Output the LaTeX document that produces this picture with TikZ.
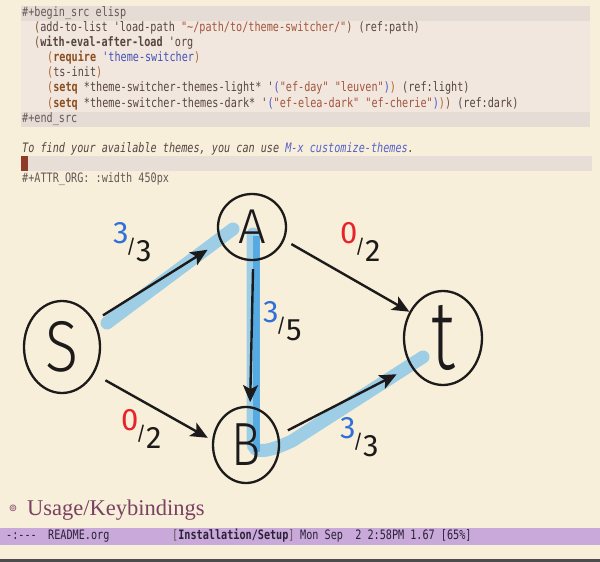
\documentclass[tikz,border=0pt]{standalone}
\usepackage{fontspec}
\usepackage{graphicx}
\usetikzlibrary{shapes.geometric,arrows.meta}
\newfontfamily\codefont{DejaVu Sans Mono}[FakeStretch=0.782,Ligatures=TeXOff]
\newfontfamily\handfont{Fira Sans Light}
\newfontfamily\digitfont{Fira Sans}
\newfontfamily\headfont{Liberation Serif}
\newfontfamily\symfont{DejaVu Sans}

\definecolor{pagebg}{HTML}{F7EFD9}
\definecolor{codebg}{HTML}{F2E7DE}
\definecolor{delimbg}{HTML}{E5DCD5}
\definecolor{hlbg}{HTML}{E7DED8}
\definecolor{fgmain}{HTML}{574444}
\definecolor{fgdim}{HTML}{665858}
\definecolor{parenone}{HTML}{7D5432}
\definecolor{parentwo}{HTML}{B0672E}
\definecolor{parenthree}{HTML}{4B57C2}
\definecolor{kwcol}{HTML}{8A4E20}
\definecolor{strcol}{HTML}{A2553D}
\definecolor{constcol}{HTML}{4552B5}
\definecolor{linkcol}{HTML}{5562CC}
\definecolor{cursorcol}{HTML}{8E3B2A}
\definecolor{headcol}{HTML}{7B4062}
\definecolor{modebg}{HTML}{C8A9DA}
\definecolor{modefg}{HTML}{2B2236}
\definecolor{inkblack}{HTML}{1C1A1A}
\definecolor{flowblue}{HTML}{2F6FD8}
\definecolor{zerored}{HTML}{E8222B}
\definecolor{brushblue}{HTML}{7FC3EA}
\definecolor{brushdeep}{HTML}{3C9FE3}

\def\flowlabel(#1,#2,#3,#4,#5,#6){
  \node[flowtext] (#1) at (#2,#3) {\textcolor{#4}{#5}\kern-0.08em\raisebox{-0.33em}{\scalebox{0.62}{/}}\raisebox{-0.6em}{#6}};
}

\begin{document}
\begin{tikzpicture}[x=1pt,y=-1pt,
  codetext/.style={anchor=west, inner sep=0pt, text height=9.5pt, text depth=3pt, text=fgmain, font=\codefont\fontsize{13}{15}\selectfont},
  vertex/.style={draw=inkblack, line width=2.3pt, ellipse, inner sep=0pt, text=inkblack},
  flowtext/.style={anchor=base west, inner sep=0pt, text=inkblack, font=\digitfont\fontsize{31}{31}\selectfont},
  flow/.style={draw=inkblack, line width=2.4pt, -{Stealth[length=17pt,width=15pt,inset=4pt]}},
  brush/.style={draw=brushblue, line width=13pt, opacity=0.75}]
\useasboundingbox (0,0) rectangle (600,562);
\fill[pagebg] (0,0) rectangle (600,562);
\fill[codebg] (21,20.5) rectangle (590,111.5);
\fill[delimbg] (21,5.5) rectangle (590,20.5);
\fill[delimbg] (21,111.5) rectangle (590,126.5);
\fill[hlbg] (21,156) rectangle (592,171);
\fill[cursorcol] (21,156) rectangle (27.5,171);

\node[codetext, text=fgdim] (srcbegin) at (22,13) {\#+begin\_src elisp};
\node[codetext] (srcpath) at (34,28) {\textcolor{parenone}{(}add-to-list 'load-path \textcolor{strcol}{"\textasciitilde/path/to/theme-switcher/"}\textcolor{parenone}{)} (ref:path)};
\node[codetext] (srcorg) at (34,43) {\textcolor{parenone}{(}\textbf{with-eval-after-load} 'org};
\node[codetext] (srcreq) at (47,58) {\textcolor{parentwo}{(}\textcolor{kwcol}{\bfseries require} \textcolor{constcol}{'theme-switcher}\textcolor{parentwo}{)}};
\node[codetext] (srcinit) at (47,73) {\textcolor{parentwo}{(}ts-init\textcolor{parentwo}{)}};
\node[codetext] (srclight) at (47,88.5) {\textcolor{parentwo}{(}\textcolor{kwcol}{\bfseries setq} *theme-switcher-themes-light* '\textcolor{parenthree}{(}\textcolor{strcol}{"ef-day" "leuven"}\textcolor{parenthree}{)}\textcolor{parentwo}{)} (ref:light)};
\node[codetext] (srcdark) at (47,104) {\textcolor{parentwo}{(}\textcolor{kwcol}{\bfseries setq} *theme-switcher-themes-dark* '\textcolor{parenthree}{(}\textcolor{strcol}{"ef-elea-dark" "ef-cherie"}\textcolor{parenthree}{)}\textcolor{parentwo}{)}\textcolor{parenone}{)} (ref:dark)};
\node[codetext, text=fgdim] (srcend) at (22,119) {\#+end\_src};
\node[codetext, font=\codefont\itshape\fontsize{13}{15}\selectfont] (hint) at (22,149) {To find your available themes, you can use \textcolor{linkcol}{M-x customize-themes}.};
\node[codetext, text=fgdim] (attr) at (22,179) {\#+ATTR\_ORG: :width 450px};

\draw[brush, line cap=round] (107,323) -- (233,229);
\draw[brush, line cap=round] (253,234) -- (253,442) .. controls (253,455) and (268,452) .. (292,441) -- (423,357);
\draw[brush, draw=brushdeep, line width=7pt] (256,236) -- (256,452);

\node[vertex, minimum width=76pt, minimum height=92pt, font=\handfont\fontsize{72}{72}\selectfont] (S) at (62,347) {\scalebox{0.85}[1]{S}};
\node[vertex, minimum width=68pt, minimum height=66pt, font=\handfont\fontsize{49}{49}\selectfont] (A) at (252,227) {A};
\node[vertex, minimum width=66pt, minimum height=76pt, font=\handfont\fontsize{61}{61}\selectfont] (B) at (246,445) {\scalebox{0.8}[1]{B}};
\node[vertex, minimum width=78pt, minimum height=94pt, font=\handfont\fontsize{70}{70}\selectfont] (t) at (443,338) {\scalebox{1}[1.4]{t}};

\draw[flow, shorten <=10pt, shorten >=15pt] (S.39) -- (A.205);
\draw[flow, shorten <=13pt, shorten >=5pt] (S.-40) -- (B.172);
\draw[flow, shorten <=8pt, shorten >=4pt] (A.-88) -- (B.84);
\draw[flow, shorten <=8pt] (A.-22) -- (t.142);
\draw[flow, shorten <=10pt, shorten >=16pt] (B.17) -- (t.222);

\flowlabel(capSA,113,243,flowblue,3,3)
\flowlabel(capAt,340,243,zerored,0,2)
\flowlabel(capAB,263,322,flowblue,3,5)
\flowlabel(capSB,121,430,zerored,0,2)
\flowlabel(capBt,340,438,flowblue,3,3)

\node[inner sep=0pt, text=headcol, font=\symfont\fontsize{10}{10}\selectfont] (bullet) at (13,508) {⊚};
\node[anchor=base west, inner sep=0pt, text=headcol, font=\headfont\fontsize{22.5}{24}\selectfont] (heading) at (27,515) {Usage/Keybindings};

\fill[modebg] (0,527.5) rectangle (600,544.5);
\node[codetext, text=modefg] (modestate) at (6,536) {-:---};
\node[codetext, text=modefg] (bufname) at (48,536) {README.org};
\node[codetext, text=modefg] (section) at (172,536) {\textcolor{fgdim}{[}\textbf{Installation/Setup}\textcolor{fgdim}{]}};
\node[codetext, text=modefg] (clock) at (300,536) {Mon Sep\ \ 2 2:58PM 1.67 [65\%]};
\fill[black!70] (0,558.5) rectangle (600,562);
\end{tikzpicture}
\end{document}
